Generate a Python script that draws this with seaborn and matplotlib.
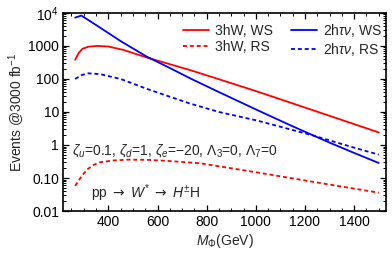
import matplotlib
matplotlib.use("Agg")
import matplotlib.pyplot as plt
import matplotlib.ticker as mticker
import pandas as pd
import seaborn as sns

# masses (GeV) and event counts
mass_3hw_ws = [265, 280, 295, 320, 354, 400, 460, 557, 650, 732, 850, 1000, 1301, 1500]
events_3hw_ws = [380, 620, 820, 950, 1000, 960, 760, 445, 280, 186, 98, 43, 7.6, 2.4]

mass_3hw_rs = [265, 290, 313, 340, 366, 420, 480, 560, 640, 773, 1000, 1250, 1500]
events_3hw_rs = [0.058, 0.11, 0.18, 0.25, 0.30, 0.34, 0.36, 0.355, 0.33, 0.28, 0.15, 0.073, 0.036]

mass_2htv_ws = [265, 290, 320, 366, 450, 557, 650, 732, 850, 1005, 1139, 1232, 1301, 1400, 1500]
events_2htv_ws = [7200, 8300, 6000, 3600, 1400, 470, 215, 105, 40, 11.5, 4.0, 1.97, 1.17, 0.575, 0.285]

mass_2htv_rs = [265, 290, 318, 366, 450, 557, 650, 732, 850, 1005, 1232, 1400, 1500]
events_2htv_rs = [100, 130, 148, 140, 100, 50, 29, 18, 10.0, 5.5, 1.95, 0.83, 0.51]

series = [
    ("3hW, WS", mass_3hw_ws, events_3hw_ws, "#ff0000", "-"),
    ("3hW, RS", mass_3hw_rs, events_3hw_rs, "#ff0000", (0, (2.2, 1.6))),
    (r"2h$\tau\nu$, WS", mass_2htv_ws, events_2htv_ws, "#0000ff", "-"),
    (r"2h$\tau\nu$, RS", mass_2htv_rs, events_2htv_rs, "#0000ff", (0, (2.2, 1.6))),
]

y_ticks = [0.01, 0.1, 1, 10, 100, 1000, 1e4]
y_tick_labels = ["0.01", "0.10", "1", "10", "100", "1000", r"$10^4$"]
x_ticks = [400, 600, 800, 1000, 1200, 1400]

sns.set_theme(style="ticks")
plt.rcParams["font.family"] = ["Liberation Sans", "DejaVu Sans"]
plt.rcParams["mathtext.fontset"] = "custom"
plt.rcParams["mathtext.rm"] = "Liberation Sans"
plt.rcParams["mathtext.it"] = "Liberation Sans:italic"
plt.rcParams["mathtext.bf"] = "Liberation Sans:bold"
plt.rcParams["mathtext.sf"] = "DejaVu Sans"

fig = plt.figure(figsize=(3.92, 2.58), dpi=100)
ax = fig.add_axes([0.161, 0.182, 0.824, 0.768])

for label, mass, events, color, ls in series:
    frame = pd.DataFrame({"mass": mass, "events": events})
    sns.lineplot(data=frame, x="mass", y="events", color=color, linestyle=ls,
                 linewidth=1.3, label=label, ax=ax)

ax.set_yscale("log")
ax.set_xlim(216, 1530)
ax.set_ylim(0.01, 1e4)
ax.yaxis.set_major_locator(mticker.FixedLocator(y_ticks))
ax.yaxis.set_major_formatter(mticker.FixedFormatter(y_tick_labels))
ax.yaxis.set_minor_locator(mticker.LogLocator(base=10, subs=range(2, 10), numticks=20))
ax.yaxis.set_minor_formatter(mticker.NullFormatter())
ax.xaxis.set_major_locator(mticker.FixedLocator(x_ticks))
ax.xaxis.set_minor_locator(mticker.MultipleLocator(50))

ax.tick_params(which="both", direction="in", top=True, right=True, colors="black",
               labelsize=10, pad=3)
ax.tick_params(which="major", length=4, width=0.9)
ax.tick_params(which="minor", length=2, width=0.7)
for spine in ax.spines.values():
    spine.set_visible(True)
    spine.set_color("black")
    spine.set_linewidth(1.2)

ax.set_xlabel(r"$M_\Phi$(GeV)", fontsize=10, labelpad=2)
ax.set_ylabel(r"Events @3000 fb$^{-1}$", fontsize=10, labelpad=1)

ax.text(0.028, 0.303, r"$\zeta_u$=0.1, $\zeta_d$=1, $\zeta_e$=$-$20, $\Lambda_3$=0, $\Lambda_7$=0",
        transform=ax.transAxes, fontsize=10, va="center", ha="left")
ax.text(0.087, 0.091, r"pp $\mathsf{\rightarrow}$ $W^{*}$ $\mathsf{\rightarrow}$ $H^{\pm}$H",
        transform=ax.transAxes, fontsize=10, va="center", ha="left")

ax.legend(loc="upper right", bbox_to_anchor=(1.012, 0.995), ncol=2, frameon=False,
          fontsize=10, handlelength=1.9, handletextpad=0.4, columnspacing=1.3,
          labelspacing=0.12, borderaxespad=0.2)

fig.savefig("out.png", dpi=100)
